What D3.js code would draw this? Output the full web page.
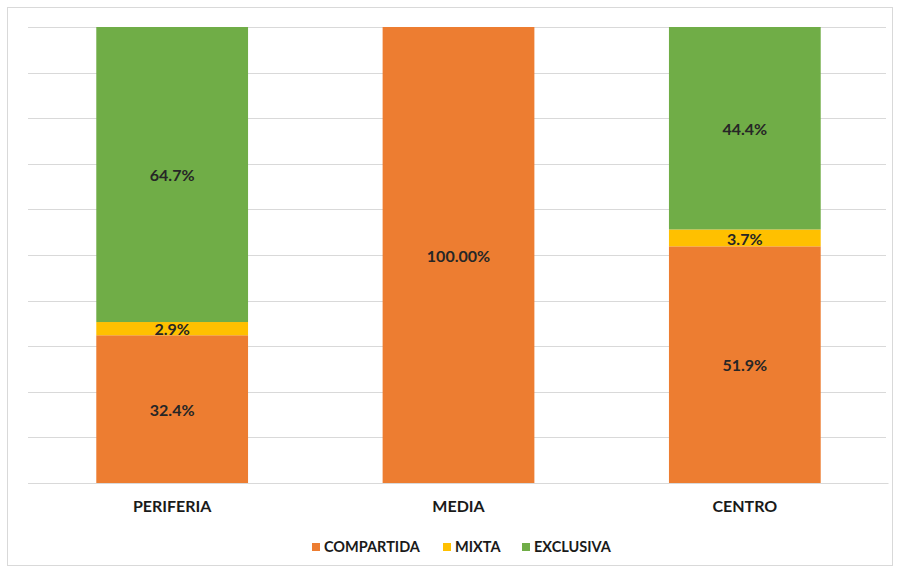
<!DOCTYPE html>
<html>
<head>
<meta charset="utf-8">
<script src="https://cdn.jsdelivr.net/npm/d3@7"></script>
<style>
  body { margin: 0; background: #fff; }
  text { font-family: Lato, "Open Sans", sans-serif; font-weight: bold; }
</style>
</head>
<body>
<svg id="chart" width="899" height="569"></svg>
<script>
var categories = ["PERIFERIA", "MEDIA", "CENTRO"];
var seriesNames = ["COMPARTIDA", "MIXTA", "EXCLUSIVA"];
var compartida = [32.4, 100, 51.9];
var mixta = [2.9, 0, 3.7];
var exclusiva = [64.7, 0, 44.4];
var valueLabels = [["32.4%", "100.00%", "51.9%"], ["2.9%", "", "3.7%"], ["64.7%", "", "44.4%"]];
var yTicks = [0, 10, 20, 30, 40, 50, 60, 70, 80, 90, 100];

var colors = ["#ED7D31", "#FFC000", "#70AD47"];

var svg = d3.select("#chart");
var W = 899, H = 569;

// outer frame
svg.append("rect")
    .attr("x", 7.5).attr("y", 7.5)
    .attr("width", W - 14).attr("height", H - 11)
    .attr("fill", "#fff")
    .attr("stroke", "#d9d9d9");

var plotLeft = 28, plotRight = 886, plotTop = 27, plotBottom = 483;

var x = d3.scaleBand().domain(categories).range([plotLeft + 1, plotRight + 2]).paddingInner(0.47).paddingOuter(0.235);
var y = d3.scaleLinear().domain([0, 100]).range([plotBottom, plotTop]);

// gridlines
svg.append("g").selectAll("line")
    .data(yTicks)
    .enter().append("line")
    .attr("x1", plotLeft).attr("x2", plotRight)
    .attr("y1", function (d) { return Math.round(y(d)) + 0.5; })
    .attr("y2", function (d) { return Math.round(y(d)) + 0.5; })
    .attr("stroke", "#d9d9d9")
    .attr("stroke-width", 1);

var table = categories.map(function (c, i) {
    return { cat: c, COMPARTIDA: compartida[i], MIXTA: mixta[i], EXCLUSIVA: exclusiva[i] };
});
var stacked = d3.stack().keys(seriesNames)(table);

var layers = svg.append("g").selectAll("g")
    .data(stacked)
    .enter().append("g")
    .attr("fill", function (d, i) { return colors[i]; });

layers.selectAll("rect")
    .data(function (d) { return d; })
    .enter().append("rect")
    .attr("x", function (d) { return x(d.data.cat); })
    .attr("width", x.bandwidth())
    .attr("y", function (d) { return y(d[1]); })
    .attr("height", function (d) { return y(d[0]) - y(d[1]); });

// value labels
stacked.forEach(function (layer, si) {
    layer.forEach(function (d, ci) {
        var txt = valueLabels[si][ci];
        if (!txt) return;
        svg.append("text")
            .attr("x", x(d.data.cat) + x.bandwidth() / 2)
            .attr("y", (y(d[0]) + y(d[1])) / 2 + 1)
            .attr("dy", "0.36em")
            .attr("text-anchor", "middle")
            .attr("font-size", 16)
            .attr("fill", "#262626")
            .text(txt);
    });
});

// category axis
var xAxis = svg.append("g")
    .attr("transform", "translate(0," + plotBottom + ")")
    .call(d3.axisBottom(x).tickSize(0).tickPadding(18));
xAxis.select(".domain").attr("stroke", "#d9d9d9");
xAxis.selectAll("text")
    .attr("font-size", 16)
    .attr("fill", "#1a1a1a")
    .style("font-family", "Lato, 'Open Sans', sans-serif")
    .style("font-weight", "bold");

// legend
var legendItems = [
    { name: "COMPARTIDA", x: 312 },
    { name: "MIXTA", x: 443 },
    { name: "EXCLUSIVA", x: 522 }
];
var legend = svg.append("g");
legendItems.forEach(function (it, i) {
    legend.append("rect")
        .attr("x", it.x).attr("y", 543)
        .attr("width", 8).attr("height", 8)
        .attr("fill", colors[i]);
    legend.append("text")
        .attr("x", it.x + 12).attr("y", 547)
        .attr("dy", "0.36em")
        .attr("font-size", 14.5)
        .attr("fill", "#1a1a1a")
        .text(it.name);
});
</script>
</body>
</html>
